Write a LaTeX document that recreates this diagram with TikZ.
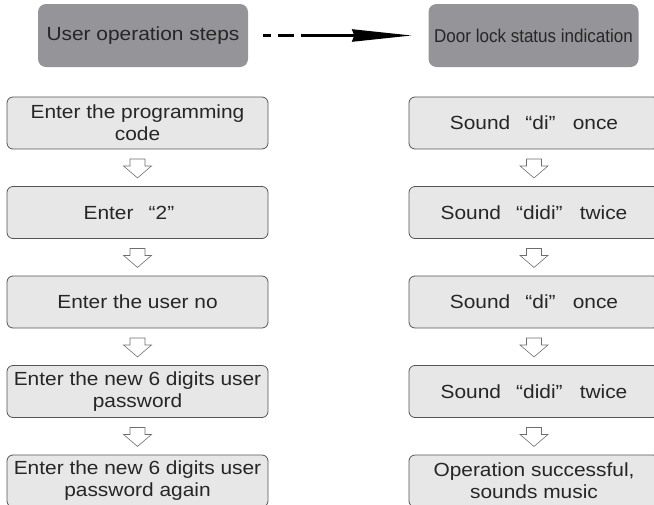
\documentclass[tikz,border=0pt]{standalone}
\usepackage{fontspec}
\setmainfont{Liberation Sans}[FakeStretch=1.1]
\newfontfamily\narrowfont{Liberation Sans}[FakeStretch=0.92]
\usetikzlibrary{arrows.meta,calc}
\usetikzlibrary{shapes,arrows}
\definecolor{headgray}{RGB}{149,149,153}
\definecolor{boxgray}{RGB}{231,231,232}
\definecolor{edgegray}{RGB}{85,85,85}
\newcommand{\quoted}[1]{\hspace{0.8em}“#1”\hspace{0.9em}}

\begin{document}
\begin{tikzpicture}[x=1pt,y=-1pt]
	\def \leftcol{137.5}
	\def \rightcol{534}
	\def \headht{35.5}
	\tikzstyle{head-node}=[rectangle,rounded corners=8pt,fill=headgray,minimum width=210pt,minimum height=63pt,inner sep=0pt,text=black!85,font=\fontsize{19}{22}\selectfont]
	\tikzstyle{s-node}=[rectangle,rounded corners=6pt,draw=edgegray,fill=boxgray,line width=0.8pt,minimum width=261pt,minimum height=52pt,inner sep=0pt,align=center,text=black!85,font=\fontsize{19}{22}\selectfont]
	\tikzstyle{i-node}=[s-node,minimum width=250pt]
	\tikzstyle{down}=[draw=edgegray!85,fill=white,line width=0.6pt,line join=miter]
	\tikzstyle{flow}=[line width=3.3pt,dash pattern=on 8pt off 7pt on 16pt off 7pt on 400pt off 0pt,-{Stealth[length=60pt,width=12pt,inset=2pt]}]
	\useasboundingbox (0,0) rectangle (654,504);

	% headers
	\node[head-node] 	(uos)	at (143,\headht)	{User operation steps};
	\node[head-node] 	(dls)	at (533.5,\headht)	{\narrowfont\fontsize{18.5}{22}\selectfont Door lock status indication};

	% user steps
	\node[s-node] 	(s1)	at (\leftcol,123)	{Enter the programming\\code};
	\node[s-node] 	(s2)	at (\leftcol,212.5)	{Enter\quoted{2}};
	\node[s-node] 	(s3)	at (\leftcol,302)	{Enter the user no};
	\node[s-node] 	(s4)	at (\leftcol,391.5)	{Enter the new 6 digits user\\password};
	\node[s-node] 	(s5)	at (\leftcol,481)	{Enter the new 6 digits user\\password again};

	% lock indications
	\node[i-node] 	(i1)	at (\rightcol,123)	{Sound\quoted{di}once};
	\node[i-node] 	(i2)	at (\rightcol,212.5)	{Sound\quoted{didi}twice};
	\node[i-node] 	(i3)	at (\rightcol,302)	{Sound\quoted{di}once};
	\node[i-node] 	(i4)	at (\rightcol,391.5)	{Sound\quoted{didi}twice};
	\node[i-node] 	(i5)	at (\rightcol,481)	{Operation successful,\\sounds music};

	% hollow arrows between steps
	\foreach \col in {s,i}{
		\foreach \a/\b in {1/2,2/3,3/4,4/5}{
			\coordinate (\col a\a) at ($(\col\a.south)!0.5!(\col\b.north)+(0,0.7)$);
			\draw[down] ($(\col a\a)+(-7.5,-9.5)$) -- ++(15,0) -- ++(0,7) -- ++(6.5,0)
				-- ($(\col a\a)+(0,9.5)$) -- ++(-14,-12) -- ++(6.5,0) -- cycle;
		}
	}

	\draw[flow] ([xshift=15pt]uos.east) -- ([xshift=-16pt]dls.west);
\end{tikzpicture}
\end{document}
